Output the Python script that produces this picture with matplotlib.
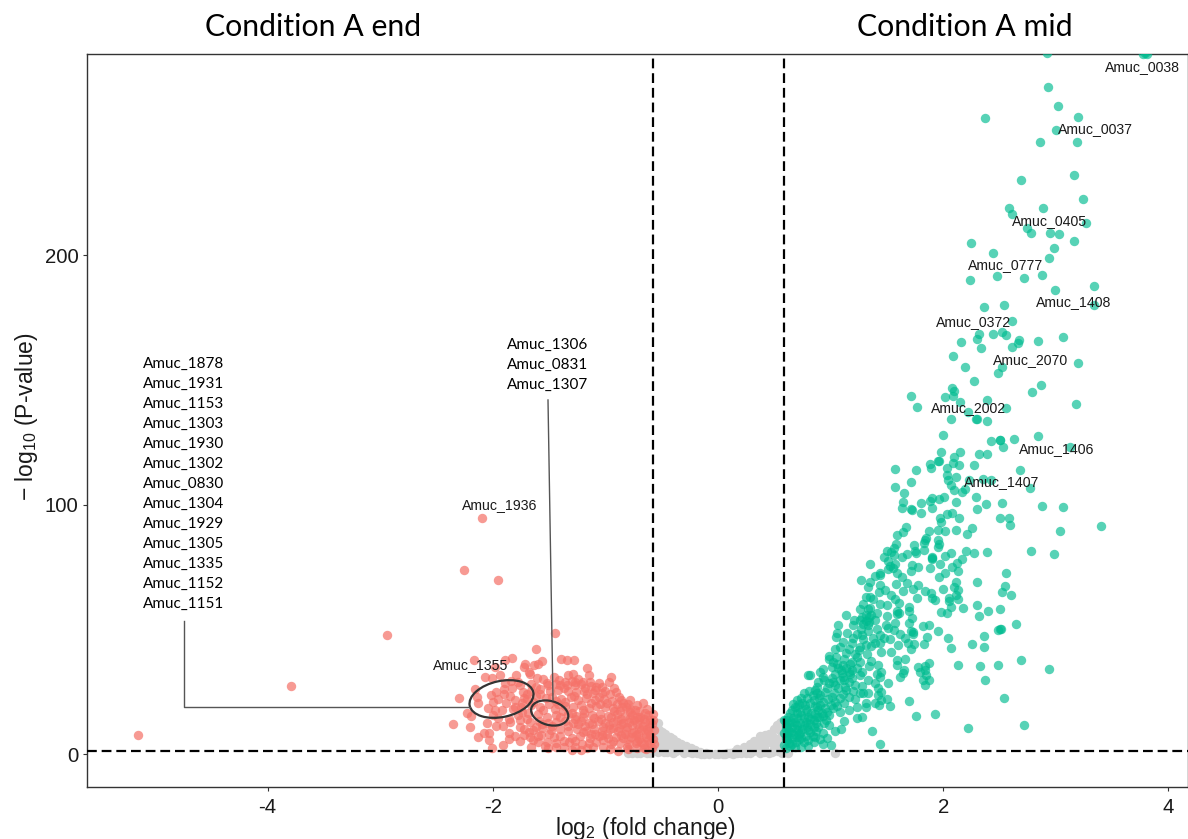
import matplotlib
matplotlib.use("Agg")
import matplotlib.pyplot as plt
from matplotlib.patches import Ellipse

plt.rcParams["font.family"] = ["Liberation Sans", "DejaVu Sans"]
plt.rcParams["mathtext.default"] = "regular"

GREEN = "#00BC90"
RED = "#F5736A"
GREY = "#D3D3D3"

x_ticks = [-4, -2, 0, 2, 4]
y_ticks = [0, 100, 200]
fc_cutoffs = [-0.58, 0.585]
p_cutoff = 1.3

grey_points = [
    (-0.8, 0.5), (-0.72, 0.4), (-0.66, 0.8), (-0.6, 0.5), (-0.56, 1.5), (-0.56, 4), (-0.55, 7), (-0.56, 10),
    (-0.535, 12.4), (-0.52, 9.6), (-0.5, 8.8), (-0.5, 5), (-0.5, 2), (-0.47, 8), (-0.45, 0.7), (-0.46, 4),
    (-0.43, 6.8), (-0.4, 5.9), (-0.4, 3), (-0.4, 0.5), (-0.36, 4.9), (-0.33, 4.1), (-0.33, 2), (-0.3, 0.4),
    (-0.28, 3.3), (-0.24, 2.4), (-0.23, 0.3), (-0.2, 1.5), (-0.16, 0.8), (-0.15, 0.2), (-0.11, 0.4), (-0.08, 0.2),
    (-0.03, 0.1), (0, 0.05), (0.04, 0.1), (0.08, 0.3), (0.13, 0.2), (0.14, 1), (0.17, 2), (0.2, 0.3),
    (0.23, 2.9), (0.28, 0.3), (0.28, 4.2), (0.32, 5.4), (0.34, 1.5), (0.37, 7.3), (0.37, 0.4), (0.41, 3),
    (0.42, 7.6), (0.45, 8.2), (0.45, 0.5), (0.48, 4.5), (0.5, 10), (0.5, 2), (0.52, 11.6), (0.53, 6),
    (0.55, 12.4), (0.56, 13), (0.57, 8), (0.57, 3), (0.57, 0.6), (0.62, 0.5), (1.04, 0.5),
    (-0.76, 0.3), (-0.69, 0.6), (-0.63, 0.3), (-0.53, 3.4), (-0.53, 0.8), (-0.53, 6.3), (-0.48, 1), (-0.48, 6),
    (-0.43, 2), (-0.43, 4.2), (-0.37, 1.3), (-0.36, 2.8), (-0.31, 1.6), (-0.26, 0.9), (-0.19, 0.5), (-0.12, 0.1),
    (0.06, 0.05), (0.11, 0.5), (0.17, 0.6), (0.22, 1.2), (0.25, 0.5), (0.31, 1.1), (0.31, 3.2), (0.36, 2.6),
    (0.39, 5), (0.41, 1), (0.44, 5.7), (0.48, 1), (0.49, 7), (0.53, 1.2), (0.53, 3.4), (0.55, 9.5),
]

red_outliers = [(-5.15, 7.6), (-3.79, 27.3), (-2.94, 47.7), (-2.26, 73.7), (-1.95, 69.7), (-2.10, 94.6)]

red_edge = [
    (-1.45, 48.5), (-1.62, 42.3), (-2.17, 37.7), (-1.83, 38.7), (-1.89, 37.7), (-1.39, 38.3), (-1.34, 37.9),
    (-1.28, 37.9), (-1.56, 37.3), (-1.6, 36.3), (-1.63, 35.7), (-1.71, 36.3), (-1.72, 35), (-1.98, 35),
    (-1.94, 31.7), (-1.79, 31.7), (-1.68, 33), (-1.67, 32), (-1.16, 34.3), (-1.15, 31.7), (-1.33, 31.7),
    (-1.29, 31.9), (-1.46, 31), (-0.95, 30.7), (-0.97, 29), (-1.27, 29), (-1.61, 30.3), (-1.55, 29.9),
    (-2.01, 30.3), (-2.07, 30.7), (-0.92, 26.6), (-0.91, 25), (-1.09, 25.6), (-1.18, 26.3), (-1.34, 27.6),
    (-1.4, 27.6), (-1.51, 27.6), (-1.27, 27.6), (-2.16, 25.9), (-0.78, 21.6), (-0.84, 20.3), (-2.3, 22.3),
    (-2.14, 23), (-2.13, 20.3), (-2.23, 16.6), (-2.19, 15.2), (-2.35, 11.9), (-2.2, 11), (-2.13, 6.7),
    (-2.08, 8.3), (-2.03, 8.3), (-2.03, 5.6), (-2.01, 2.3), (-2.05, 12.3), (-1.97, 11.2), (-1.91, 3.6),
    (-1.86, 5.9), (-1.86, 8.3), (-1.91, 11.2), (-1.76, 5.3), (-1.66, 2.9), (-1.67, 7), (-1.6, 7.2),
    (-1.54, 3.2), (-1.51, 2.3), (-1.52, 4.9), (-1.37, 2.9), (-1.22, 1.6), (-1.21, 4), (-1.11, 2.7),
    (-1.02, 2.9), (-0.89, 1.3), (-1.02, 5.6), (-0.81, 2.9), (-2.02, 23.6), (-1.97, 25), (-1.83, 26.3),
    (-1.76, 27.6), (-1.73, 25), (-1.88, 20.3), (-1.8, 21.6), (-2.04, 18.3), (-1.98, 17.6), (-1.92, 17.6),
    (-1.8, 18.7), (-1.74, 20.3), (-1.89, 28.3),
]

red_dense = [
    (-1.52, 28.5), (-1.44, 28.1), (-1.36, 28.8), (-1.22, 27.9), (-1.13, 27.2), (-1.03, 26.8),
    (-1.66, 25.4), (-1.58, 26), (-1.49, 25.2), (-1.42, 25.8), (-1.33, 25.1), (-1.26, 24.7), (-1.19, 25.4),
    (-1.11, 24.3), (-1.03, 24.6), (-0.96, 23.9), (-0.88, 22.8), (-1.7, 22.1), (-1.62, 23.2), (-1.53, 22.4),
    (-1.47, 23), (-1.39, 22.2), (-1.31, 22.7), (-1.24, 21.8), (-1.17, 22.3), (-1.09, 21.5), (-1.01, 22),
    (-0.94, 21.2), (-0.86, 21.6), (-0.8, 20.1), (-0.72, 19.6), (-0.67, 20.5), (-1.75, 18.9), (-1.66, 19.6),
    (-1.58, 19), (-1.36, 19.3), (-1.29, 18.8), (-1.22, 19.6), (-1.15, 18.6), (-1.08, 19.2), (-1.0, 18.9),
    (-0.93, 18.3), (-0.85, 18.8), (-0.78, 18), (-0.7, 17.4), (-0.63, 18), (-1.78, 15.7), (-1.69, 16.4),
    (-1.6, 15.9), (-1.33, 16.2), (-1.26, 15.4), (-1.19, 16.3), (-1.12, 15.6), (-1.05, 16.1), (-0.98, 15.3),
    (-0.9, 15.9), (-0.83, 15.2), (-0.76, 15.8), (-0.69, 15), (-0.62, 15.5), (-0.58, 16.2), (-1.85, 12.9),
    (-1.76, 13.5), (-1.67, 12.7), (-1.59, 13.4), (-1.51, 12.6), (-1.44, 12.9), (-1.36, 13.2), (-1.29, 12.5),
    (-1.22, 13.4), (-1.15, 12.4), (-1.07, 13.1), (-1.0, 12.3), (-0.93, 13), (-0.86, 12.2), (-0.79, 12.9),
    (-0.72, 12.1), (-0.65, 12.8), (-0.59, 12.2), (-1.72, 10.1), (-1.64, 9.6), (-1.56, 10.3), (-1.48, 9.5),
    (-1.4, 10.2), (-1.33, 9.4), (-1.25, 10.1), (-1.17, 9.3), (-1.1, 10), (-1.03, 9.2), (-0.96, 9.9),
    (-0.89, 9.1), (-0.82, 9.8), (-0.75, 9), (-0.68, 9.7), (-0.62, 9.1), (-0.57, 9.8), (-1.8, 7.2),
    (-1.46, 6.8), (-1.4, 7.4), (-1.3, 6.6), (-1.23, 7.3), (-1.14, 6.5), (-1.06, 7.1), (-0.98, 6.4),
    (-0.91, 7), (-0.84, 6.3), (-0.77, 6.9), (-0.7, 6.2), (-0.64, 6.8), (-0.58, 6.1), (-1.44, 4.4),
    (-1.32, 4.8), (-1.15, 4.3), (-1.08, 4.7), (-0.95, 4.2), (-0.87, 4.6), (-0.79, 4.1), (-0.73, 4.5),
    (-0.66, 3.9), (-0.6, 4.3), (-0.72, 2.5), (-0.64, 2.1), (-0.59, 2.6), (-0.96, 2.2), (-1.3, 1.8),
    (-0.92, 17.2), (-0.86, 14), (-0.81, 11), (-0.75, 13.6), (-0.7, 10.6), (-0.66, 14), (-0.61, 11),
    (-0.6, 7.6), (-0.73, 7.6), (-0.68, 5), (-0.78, 16.8), (-0.83, 8.2), (-0.88, 10.5), (-0.95, 14.8),
    (-1.02, 11), (-1.1, 14.6), (-1.18, 11.2), (-1.27, 14), (-1.2, 17.6), (-1.13, 20.6), (-1.05, 20.2),
    (-1.28, 23.4), (-1.36, 21), (-1.42, 20), (-0.99, 8), (-1.09, 8.2), (-0.76, 11.5), (-0.63, 10),
    (-0.7, 14), (-0.65, 16.6), (-1.62, 27), (-1.7, 24), (-1.85, 23.4), (-1.78, 29), (-1.95, 22),
    (-2.0, 21), (-1.9, 24), (-1.82, 18), (-1.74, 17), (-1.5, 20), (-1.45, 18), (-1.55, 17.5),
    (-1.38, 17.2), (-1.44, 15.5), (-1.52, 15), (-1.64, 21), (-1.86, 14), (-1.95, 14.5), (-2.0, 15.5),
    (-1.76, 11), (-1.68, 9), (-1.6, 5),
    (-1.41, 29.6), (-1.37, 26.4), (-1.3, 29.4), (-1.24, 30.2), (-1.2, 28.8), (-1.16, 24), (-1.08, 27),
    (-1.06, 23), (-1, 25.4), (-0.99, 20.5), (-0.9, 20.1), (-0.87, 17.2), (-0.82, 19), (-0.74, 17.6),
    (-0.72, 15), (-0.6, 13.7), (-0.64, 8.2), (-0.67, 11.2), (-0.78, 14.4), (-0.84, 12.6), (-0.9, 13.6),
    (-0.97, 11.6), (-1.04, 14), (-1.12, 12), (-1.2, 14.8), (-1.24, 12), (-1.33, 11.4), (-1.3, 16.6),
    (-1.4, 14.8), (-1.47, 11.4), (-1.56, 12), (-1.62, 11), (-1.7, 14), (-1.72, 7.8), (-1.64, 5.6),
    (-1.57, 7.8), (-1.5, 8.2), (-1.37, 5.4), (-1.27, 5.4), (-1.2, 8.8), (-1.13, 8), (-1.03, 7.8),
    (-0.93, 10.6), (-0.93, 5.3), (-0.86, 7.8), (-0.8, 6), (-0.76, 8.4), (-0.71, 8), (-0.62, 5.6),
    (-0.57, 4), (-0.58, 13.8), (-0.66, 2.6), (-0.8, 2.2), (-0.72, 5.4), (-1.44, 2.8), (-1.16, 2.6),
    (-1.27, 2.8), (-1.9, 26), (-1.84, 29.4), (-1.72, 22.6), (-1.66, 28.2), (-1.58, 24), (-1.44, 21.4),
    (-1.14, 29), (-1.06, 28.4),
]

green_top = [
    (2.92, 281), (3.77, 280.5), (3.79, 281), (3.81, 280.5), (2.93, 267.5), (3.02, 259.7), (2.37, 255),
    (3.20, 255.5), (3.00, 250), (2.86, 245.3), (3.19, 245.4), (2.69, 230.2), (3.16, 232.2), (3.24, 222.6),
    (2.58, 218.7), (2.89, 218.8), (2.61, 216.4), (3.27, 212.8), (2.74, 210.7), (2.78, 208.8), (2.95, 208.8),
    (3.03, 208.5), (3.16, 205.6), (2.25, 204.9), (2.98, 202.9), (2.44, 200.8), (2.94, 198.7), (2.24, 190.2),
    (2.48, 191.6), (2.72, 191), (2.88, 192), (3.34, 187.8), (2.99, 186.2),
]

green_mid = [
    (3.34, 180), (2.36, 179.3), (2.54, 180), (2.61, 173.5), (2.32, 168.2), (2.44, 168.2), (2.52, 169.1),
    (2.56, 167.8), (2.30, 166.2), (2.16, 165.3), (3.06, 167), (2.84, 165.5), (2.67, 165.8), (2.66, 164.6),
    (2.61, 163.1), (2.34, 162.7), (2.09, 159.5), (3.20, 156.7), (2.19, 155), (2.52, 155), (2.49, 152.8),
    (2.27, 149.6), (2.87, 147.9), (2.79, 145.2), (2.08, 146.6), (2.10, 145.5), (2.09, 143.5), (2.02, 143.1),
    (1.71, 143.6), (1.77, 139.3), (2.39, 141.9), (2.15, 141), (3.18, 140.4), (2.56, 138.8), (2.22, 137.2),
    (2.07, 134.4), (2.29, 134.4), (2.30, 134.2), (2.39, 133.7), (2.00, 127.7), (2.84, 127.5), (2.42, 125.4),
    (2.50, 125.9), (2.50, 125.7), (2.63, 126.3), (2.53, 123), (3.13, 123.2), (1.98, 121.2), (2.15, 121.2),
    (2.32, 120.1), (2.39, 120.1), (2.10, 119), (1.96, 117.6), (1.95, 117.3), (1.88, 116.4), (1.89, 114.8),
    (2.09, 116.5), (2.14, 115.8), (2.27, 115.7), (2.68, 114), (1.57, 114.4), (1.76, 113.9), (2.03, 114.5),
    (2.03, 112), (2.11, 110.9), (2.04, 109.7), (1.71, 109.1), (1.57, 107.2), (2.07, 107.8), (2.35, 110.2),
    (2.42, 109.8), (2.23, 109.8), (2.19, 106.2), (2.10, 105.7), (2.17, 104.9), (2.77, 106.5), (1.65, 104.5),
    (2.29, 103.1), (2.01, 103.2), (1.90, 102.7), (1.96, 102.1), (1.88, 101.6), (1.80, 100.7), (1.64, 101.1),
    (2.11, 100.9), (2.38, 100.1), (2.52, 100.6), (2.88, 99.3), (3.06, 98.9), (1.63, 98.6), (1.71, 98.2),
    (1.72, 98), (1.90, 98.5), (2.30, 98.1), (1.80, 96.6), (2.03, 96.2), (2.08, 96.7), (1.97, 94.5),
    (2.14, 94.5), (2.50, 94.8), (2.58, 94.8), (3.40, 91.4), (3.04, 89.4), (2.98, 80), (2.78, 81.4),
]

green_low = [
    (2.59, 91.8), (1.67, 91), (1.64, 89.1), (1.59, 88), (1.87, 89.4), (1.95, 90), (2.02, 89.6), (2.11, 90),
    (2.21, 88.4), (2.26, 90.7), (1.98, 93.1), (1.85, 86.8), (1.84, 86), (1.83, 84.7), (1.95, 85.8),
    (1.96, 84.2), (1.95, 82.8), (1.74, 83.6), (1.83, 81.8), (1.75, 81.5), (1.76, 80.4), (1.58, 84),
    (1.56, 82.4), (1.50, 81.4), (1.54, 81.1), (1.56, 79.8), (1.47, 78.8), (1.51, 77.5), (1.63, 79.1),
    (1.68, 80), (1.90, 78.8), (1.90, 78.4), (1.90, 78), (2.02, 79.4), (2.07, 80.7), (2.20, 81.2), (2.27, 80.7),
    (2.39, 80.8), (2.17, 78), (2.12, 76.4), (1.97, 76), (1.88, 74.5), (1.72, 75.7), (1.71, 73.5), (1.78, 75.1),
    (1.57, 76.1), (1.53, 75.5), (1.51, 74), (1.55, 74.4), (1.35, 76.3), (2.08, 74.8), (2.13, 73.5),
    (2.02, 72.7), (1.59, 72.4), (1.44, 72.7), (1.39, 71.2), (1.44, 71.7), (1.63, 71.1), (1.96, 70.8),
    (2.56, 72.4), (1.27, 69.9), (1.35, 68.8), (1.68, 68.4), (1.58, 68), (1.44, 67.9), (1.78, 67.9),
    (2.11, 69.1), (2.30, 68.9), (1.33, 66.8), (1.48, 65.7), (1.43, 64.9), (1.64, 65.3), (1.73, 66),
    (2.10, 66.8), (2.13, 65.7), (2.55, 67.5), (2.52, 64.8), (1.84, 65.3), (1.89, 64.7), (2.00, 66.3),
    (2.11, 63.7), (2.60, 63.7), (1.54, 63.7), (1.57, 62), (1.31, 62.8), (1.35, 63.1), (1.38, 62), (1.77, 62.4),
    (1.90, 62.4), (1.93, 61.7), (2.05, 62.4), (2.05, 61.4), (2.13, 62), (2.30, 59.7), (1.29, 60.1), (1.44, 60.1),
    (1.50, 59.7), (1.61, 60.6), (2.07, 58.8), (2.18, 58.4), (2.40, 57.3), (2.50, 58), (1.70, 58.8), (1.70, 57.4),
    (1.26, 58), (1.35, 58.4), (1.41, 56.4), (1.59, 57.4), (1.59, 56.1), (1.61, 56.4), (1.98, 56.8), (2.03, 56.6),
    (1.50, 55.3), (1.14, 55.8), (1.21, 53.7), (1.26, 53.7), (1.31, 55.7), (1.34, 55), (1.36, 55.7), (1.39, 53.7),
    (1.34, 53), (1.29, 52.1), (1.72, 54.6), (1.70, 52.6), (2.32, 55.2), (1.49, 51.7), (1.57, 52.4), (1.51, 50.4),
    (1.07, 51.7), (1.20, 51.7), (1.33, 49.4), (1.41, 50), (1.56, 49.7), (1.82, 51.4), (1.87, 51.7), (2.65, 52.1),
    (2.50, 50.2), (2.51, 50), (2.49, 49.8), (1.95, 49.4), (1.73, 49), (1.71, 49.3), (1.73, 48), (1.15, 48.4),
    (1.06, 48.4), (1.23, 48), (1.28, 47.7), (1.44, 47.7), (1.62, 48.1), (1.05, 46.8), (1.38, 46.4), (1.47, 46.4),
    (1.66, 46.4), (1.86, 46.8), (2.04, 46.5), (2.36, 47.4), (1.53, 46), (1.69, 44.6), (1.11, 45), (1.19, 44.4),
    (1.39, 44.6), (1.44, 44.4), (1.74, 44), (1.83, 44.2), (2.26, 44.2), (2.07, 42.7), (2.36, 42.9), (1.60, 43.7),
    (1.26, 43), (1.31, 43.7), (1.36, 43.3), (1.08, 42.8), (1.04, 42.3), (1.71, 42), (1.54, 41), (1.45, 41),
    (1.14, 40.6), (1.22, 40.1), (1.32, 40.3), (0.99, 39.4), (0.99, 38.3), (1.23, 39), (1.59, 37.7), (1.66, 38.1),
    (2.69, 37.7), (1.87, 36.7), (1.02, 37), (1.19, 37), (1.26, 37), (1.36, 37.4), (1.42, 35.7), (1.59, 35.7),
    (2.13, 35.9), (2.33, 35.4), (2.49, 35.8), (1.78, 34.7), (1.84, 35.3), (0.93, 34.1), (1.01, 35), (1.07, 34.3),
    (1.11, 35.7), (1.14, 34.3), (1.19, 33.7), (1.23, 34.3), (2.94, 33.9), (1.65, 33.7), (0.91, 33), (1.10, 32.3),
    (1.16, 33), (1.79, 32.7), (1.84, 33.7), (1.45, 33), (1.64, 32.3), (1.62, 31), (1.41, 32), (0.82, 31.5),
    (0.80, 31.5), (0.93, 31), (1.01, 30.3), (1.11, 31), (1.26, 31.7), (1.44, 31), (1.85, 31.7), (1.33, 29.7),
    (1.39, 28.6), (1.51, 28.6), (1.82, 29.7), (1.87, 29.7), (1.84, 27.8), (2.37, 29.5), (0.89, 29), (0.99, 28.3),
    (1.04, 27.7), (1.16, 29), (1.22, 27.7), (1.28, 27.4), (1.07, 26.3), (1.29, 24.6), (1.33, 24.6), (1.42, 26.3),
    (1.45, 25), (1.42, 23.6), (1.26, 24.6), (0.76, 24.3), (0.81, 25.4), (0.86, 25.7), (0.91, 23.6), (0.95, 25),
    (1.01, 23), (1.11, 24), (1.16, 23), (1.22, 22), (0.70, 21.6), (0.79, 22.3), (0.85, 21.6), (0.93, 21), (1.04, 21),
    (1.50, 22.2), (1.45, 21.6), (1.70, 21.1), (2.54, 22.6), (1.39, 20.3), (1.43, 19.5), (1.31, 20.3), (1.31, 19),
    (1.53, 19.4), (1.23, 18.7), (0.68, 19), (0.77, 19.6), (0.88, 19), (0.95, 18.3), (1.02, 18.3), (1.08, 17),
    (1.16, 17.6), (0.64, 16.3), (0.73, 17), (0.83, 16.3), (0.92, 16.3), (0.99, 15.6), (1.23, 14.4), (1.28, 14.8),
    (1.93, 16), (1.76, 15.4), (0.59, 13.6), (0.67, 14.3), (0.76, 14.3), (0.85, 13.6), (0.96, 13.6), (1.12, 13.1),
    (0.61, 11), (0.70, 11.6), (0.79, 11), (0.89, 11), (0.99, 11.6), (1.09, 10), (1.37, 9.3), (2.22, 10.3),
    (2.72, 11.5), (0.59, 8.3), (0.65, 9), (0.73, 8.3), (0.82, 9), (0.93, 8.3), (0.61, 5.6), (0.70, 7), (0.76, 5),
    (1.44, 4.1), (0.93, 3.9), (1.00, 3.7), (0.85, 5), (0.64, 3.2), (0.74, 2.9), (0.80, 3.2),
]

green_dense = [
    (0.59, 3.5), (0.62, 7), (0.6, 10), (0.63, 12.5), (0.66, 11), (0.6, 13.5), (0.6, 6.5), (0.63, 9.4), (0.66, 6.6),
    (0.68, 13), (0.71, 9.5), (0.73, 12.6), (0.75, 10), (0.67, 8.1), (0.69, 4.7), (0.72, 6), (0.78, 7.4), (0.8, 9.8),
    (0.78, 12.8), (0.82, 12.2), (0.84, 7.2), (0.87, 9.4), (0.87, 12.4), (0.9, 14.8), (0.74, 15.6), (0.7, 16.6),
    (0.66, 17.6), (0.8, 15), (0.86, 16.2), (0.89, 17.6), (0.78, 18.2), (0.72, 20), (0.82, 20.6), (0.91, 19.6),
    (0.74, 22.6), (0.84, 23.6), (0.94, 12.6), (0.93, 15.2), (0.97, 17), (1.0, 19.8), (1.06, 19.4), (1.03, 24.6),
    (0.88, 27), (0.97, 26.6), (0.94, 29.6), (1.04, 32), (1.08, 29.6), (1.13, 27), (1.19, 30.5), (1.09, 33.5),
    (1.17, 36), (1.05, 38.8), (1.12, 38), (1.16, 42), (1.25, 41.6), (1.29, 46), (1.33, 51.6), (1.28, 55),
    (1.31, 53.5), (1.33, 58), (0.97, 6.4), (1.04, 9.2), (0.68, 2.9), (0.6, 2.4), (0.86, 7), (0.91, 6),
    (0.62, 15), (0.6, 11.8), (0.65, 13), (0.7, 14.4), (0.63, 4.6), (0.61, 8.6), (0.66, 4), (0.69, 10), (0.72, 8),
    (0.76, 11.6), (0.74, 6.6), (0.8, 5.6), (0.82, 14.2), (0.88, 15), (0.85, 11), (0.79, 17.4), (0.75, 20.4),
    (0.7, 18.8), (0.67, 20), (0.86, 19.4), (0.9, 22.4), (0.98, 22.2), (1.08, 22.6), (1.12, 20.6), (1.14, 25.6),
    (1.2, 25.4), (0.88, 24.6), (1.02, 28.8), (1.12, 29.6), (1.06, 36), (1.17, 32), (1.28, 33), (1.34, 35.2),
    (1.2, 46.6), (1.27, 50),
]

labels_arial = [
    ("Amuc_0038", 1105, 67), ("Amuc_0037", 1058, 129), ("Amuc_0405", 1012, 221), ("Amuc_0777", 968, 265),
    ("Amuc_1408", 1036, 302), ("Amuc_0372", 936, 322), ("Amuc_2070", 993, 360), ("Amuc_2002", 931, 408),
    ("Amuc_1406", 1019, 449), ("Amuc_1407", 964, 482), ("Amuc_1936", 462, 505), ("Amuc_1355", 433, 665),
]
left_list = [
    "Amuc_1878", "Amuc_1931", "Amuc_1153", "Amuc_1303", "Amuc_1930", "Amuc_1302", "Amuc_0830",
    "Amuc_1304", "Amuc_1929", "Amuc_1305", "Amuc_1335", "Amuc_1152", "Amuc_1151",
]
mid_list = ["Amuc_1306", "Amuc_0831", "Amuc_1307"]


def scatter(axis, points, color, alpha, zorder):
    xs, ys = zip(*points)
    axis.scatter(xs, ys, s=46, color=color, alpha=alpha, linewidths=0, zorder=zorder)


fig = plt.figure(figsize=(11.88, 8.39), dpi=100)
ax = fig.add_axes([87 / 1188, 52 / 839, 1101 / 1188, 733 / 839])
ax.set_xlim(-5.604, 4.174)
ax.set_ylim(-13.2, 280.6)

scatter(ax, grey_points, GREY, 1.0, 2)
scatter(ax, red_outliers + red_edge + red_dense, RED, 0.72, 3)
scatter(ax, green_top + green_mid + green_low + green_dense, GREEN, 0.66, 4)

for cutoff in fc_cutoffs:
    ax.axvline(cutoff, color="black", lw=1.6, dashes=(4.4, 2.2), zorder=5)
ax.axhline(p_cutoff, color="black", lw=1.6, dashes=(4.4, 2.2), zorder=5)

ax.set_xticks(x_ticks)
ax.set_yticks(y_ticks)
ax.set_xticklabels([str(t) for t in x_ticks])
ax.tick_params(labelsize=14.7, length=3, width=0.8, color="#333333", labelcolor="#1a1a1a", pad=3)
ax.tick_params(axis="x", pad=5)
for spine in ax.spines.values():
    spine.set_color("#333333")
    spine.set_linewidth(1.0)

# everything below is placed in picture pixels
overlay = fig.add_axes([0, 0, 1, 1], facecolor="none")
overlay.set_xlim(0, 1188)
overlay.set_ylim(839, 0)
overlay.axis("off")

overlay.text(313, 27, "Condition A end", ha="center", va="center", fontsize=21.8, family="Lato")
overlay.text(965, 27, "Condition A mid", ha="center", va="center", fontsize=21.8, family="Lato")
overlay.text(645, 829, "log$_{2}$ (fold change)", ha="center", va="center", fontsize=16.5, color="#1a1a1a")
overlay.text(27, 417, "\u2212 log$_{10}$ (P-value)", ha="center", va="center", rotation=90, fontsize=16.5, color="#1a1a1a")

for text, x, y in labels_arial:
    overlay.text(x, y, text, ha="left", va="center", fontsize=10.2, color="#1a1a1a")
for row, text in enumerate(left_list):
    overlay.text(143, 363.5 + row * 20, text, ha="left", va="center", fontsize=11, family="Lato", color="black")
for row, text in enumerate(mid_list):
    overlay.text(507, 344.5 + row * 20, text, ha="left", va="center", fontsize=11, family="Lato", color="black")

overlay.plot([184, 184, 470], [621, 707, 707], color="#555555", lw=1.0)
overlay.plot([548, 553], [400, 700], color="#555555", lw=1.0)
overlay.add_patch(Ellipse((501.5, 699), 65, 36, angle=-12, fill=False, edgecolor="#333333", lw=1.6))
overlay.add_patch(Ellipse((549.7, 713), 38, 24, angle=15, fill=False, edgecolor="#333333", lw=1.6))

fig.savefig("out.png", dpi=100)
